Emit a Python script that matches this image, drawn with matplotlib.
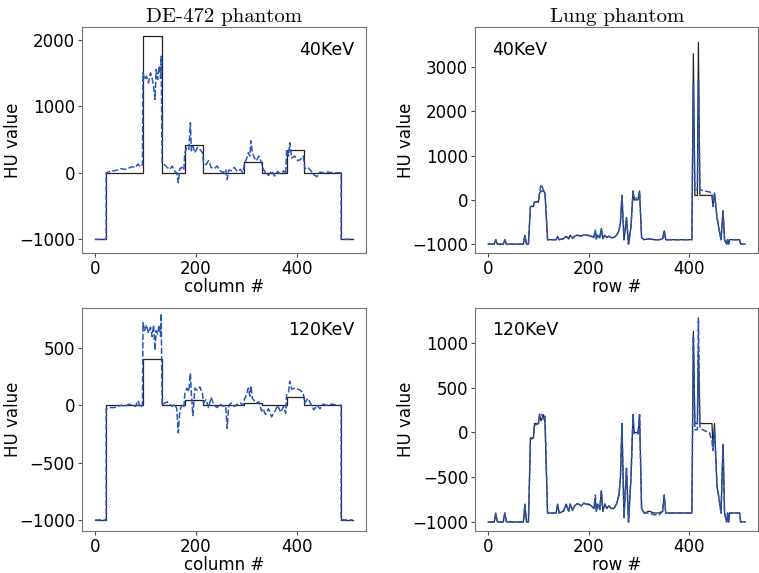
import matplotlib
matplotlib.use('Agg')
import matplotlib.pyplot as plt

# DE-472 phantom, ground truth step profile (column #)
de_true_x = [0, 22, 22, 95, 95, 132, 132, 178, 178, 215, 215,
             295, 295, 332, 332, 380, 380, 415, 415, 488, 488, 511]
de40_true_y = [-1000, -1000, 0, 0, 2050, 2050, 0, 0, 410, 410, 0,
               0, 160, 160, 0, 0, 340, 340, 0, 0, -1000, -1000]
de120_true_y = [-1000, -1000, 0, 0, 400, 400, 0, 0, 45, 45, 0,
                0, 20, 20, 0, 0, 70, 70, 0, 0, -1000, -1000]

# DE-472 phantom, reconstructed profile
de_rec_x = [0, 22, 22, 30, 38, 45, 52, 60, 67, 74,
            80, 85, 90, 94, 95, 98, 102, 106, 110, 113,
            116, 119, 121, 124, 127, 130, 131, 133, 138, 143,
            148, 153, 158, 162, 165, 168, 172, 176, 178, 182,
            186, 189, 191, 194, 198, 203, 208, 213, 215, 220,
            225, 230, 236, 242, 248, 254, 259, 262, 265, 270,
            276, 282, 288, 293, 296, 300, 304, 307, 309, 312,
            316, 320, 325, 330, 333, 338, 344, 350, 356, 362,
            368, 374, 378, 380, 384, 386, 390, 396, 402, 408,
            413, 416, 422, 428, 434, 440, 446, 452, 460, 470,
            480, 488, 488, 511]
de40_rec_y = [-1000, -1000, 0, 20, 30, 40, 60, 50, 70, 90,
              80, 130, 90, 120, 1500, 1400, 1450, 1350, 1500, 1420,
              1300, 1100, 1550, 1400, 1600, 1420, 1750, 150, 120, 80,
              50, 100, 20, 0, -150, 60, 80, 40, 300, 380,
              350, 750, 330, 400, 300, 380, 350, 300, 150, 120,
              180, 80, 60, 100, 30, 0, 50, -100, 40, 30,
              80, 20, 50, 0, 120, 200, 300, 250, 480, 300,
              220, 180, 250, 150, 60, 0, -40, 30, -50, 20,
              -20, 30, -30, 350, 250, 450, 220, 250, 180, 200,
              250, 60, 80, 30, -30, -60, 10, 0, 10, 0,
              0, 0, -1000, -1000]
de120_rec_y = [-1000, -1000, -30, -20, -20, -10, 0, -10, 10, 0,
               -10, 40, -20, 0, 720, 650, 700, 630, 680, 600,
               700, 480, 650, 620, 700, 600, 800, 0, 20, 30,
               10, -10, 10, -30, -240, -50, 0, -20, 100, 150,
               120, 280, 100, -90, 150, 130, 160, 100, 20, 50,
               -20, 70, 0, -20, 10, -10, 0, -200, 0, 20,
               -10, 10, 20, 0, 50, 90, 150, 80, 170, 60,
               40, 20, 30, -50, -30, -80, -30, -100, -60, 0,
               -60, -10, -70, 100, 120, 210, 140, 150, 140, 130,
               100, 20, 60, 10, -40, 0, -30, 10, 0, 10,
               0, 0, -1000, -1000]

# Lung phantom profiles (row #)
lung_x = [0, 12, 15, 18, 30, 33, 36, 70, 73, 76,
          80, 84, 90, 92, 100, 102, 105, 110, 113, 118,
          135, 138, 141, 150, 155, 160, 163, 168, 172, 176,
          180, 185, 190, 195, 200, 205, 210, 213, 215, 218,
          222, 225, 228, 232, 236, 240, 245, 250, 255, 260,
          263, 266, 270, 275, 279, 284, 288, 290, 298, 301,
          305, 310, 320, 330, 340, 347, 350, 353, 370, 390,
          400, 405, 408, 411, 416, 418, 421, 430, 440, 445,
          447, 450, 455, 458, 463, 467, 470, 474, 476, 478,
          480, 483, 490, 500, 502, 511]
lung40_true_y = [-1000, -1000, -900, -1000, -1000, -900, -1000, -1000, -800, -1000,
                 -1000, -150, -150, -50, -50, 150, 200, 200, 150, -900,
                 -900, -830, -900, -880, -820, -880, -800, -870, -820, -800,
                 -800, -820, -790, -800, -800, -820, -850, -700, -880, -800,
                 -860, -650, -880, -800, -850, -820, -850, -850, -800, -700,
                 -500, 100, -900, -400, -1000, -600, 200, 0, 0, 200,
                 -850, -900, -880, -900, -900, -880, -700, -900, -900, -900,
                 -900, -900, 3300, 100, 100, 3560, 100, 100, 100, 100,
                 -150, 150, -400, -600, -900, -250, -900, -1000, -900, -1000,
                 -900, -900, -900, -900, -1000, -1000]
lung40_rec_y = [-1000, -1000, -900, -1000, -1000, -900, -1000, -1000, -800, -1000,
                -1000, -150, -100, -50, -30, 150, 350, 220, 150, -900,
                -900, -840, -900, -870, -830, -880, -810, -860, -820, -800,
                -810, -820, -790, -800, -810, -820, -850, -680, -880, -800,
                -850, -650, -870, -800, -850, -820, -860, -850, -800, -700,
                -500, 100, -900, -400, -1000, -600, 200, 50, 30, 200,
                -850, -900, -880, -900, -900, -880, -700, -900, -900, -900,
                -900, -900, 2600, 230, 230, 2700, 230, 200, 180, 150,
                -150, 150, -400, -600, -900, -250, -900, -1000, -900, -1000,
                -900, -900, -900, -900, -1000, -1000]
lung120_true_y = [-1000, -1000, -900, -1000, -1000, -900, -1000, -1000, -800, -1000,
                  -1000, -60, -60, 100, 100, 200, 130, 200, 100, -900,
                  -900, -800, -900, -880, -800, -880, -800, -870, -820, -800,
                  -800, -820, -790, -800, -800, -820, -850, -750, -880, -800,
                  -860, -650, -880, -800, -850, -820, -850, -850, -800, -700,
                  -500, 100, -950, -400, -1000, -500, 200, 0, 0, 200,
                  -850, -900, -880, -900, -900, -880, -700, -900, -900, -900,
                  -900, -900, 1130, 100, 100, 930, 100, 100, 100, 100,
                  -150, 100, -600, -700, -900, -130, -900, -1000, -900, -1000,
                  -900, -900, -900, -900, -1000, -1000]
lung120_rec_y = [-1000, -1000, -900, -1000, -1000, -900, -1000, -1000, -800, -1000,
                 -1000, -80, -60, 80, 100, 200, 220, 150, 180, -900,
                 -900, -810, -900, -870, -810, -880, -800, -860, -820, -800,
                 -800, -820, -790, -800, -810, -820, -850, -700, -880, -800,
                 -860, -650, -880, -800, -850, -820, -850, -850, -800, -700,
                 -500, 100, -950, -400, -1000, -500, 200, -10, -20, 200,
                 -850, -900, -900, -920, -920, -880, -700, -900, -900, -900,
                 -900, -900, 1080, 30, 30, 1280, 50, 20, 0, -100,
                 -200, 30, -600, -700, -900, -130, -900, -1000, -900, -1000,
                 -900, -900, -900, -900, -1000, -1000]

true_color = '#222222'
rec_color = '#2a55b5'

fig = plt.figure(figsize=(7.59, 5.73), dpi=100)
axA = fig.add_axes([0.108, 0.5585, 0.374, 0.394])
axB = fig.add_axes([0.626, 0.5585, 0.373, 0.394])
axC = fig.add_axes([0.108, 0.073, 0.374, 0.39])
axD = fig.add_axes([0.626, 0.073, 0.373, 0.39])

panels = [
    (axA, de_true_x, de40_true_y, de_rec_x, de40_rec_y, '40KeV', 'column #', 'right',
     [-1000, 0, 1000, 2000], (-1205, 2185)),
    (axB, lung_x, lung40_true_y, lung_x, lung40_rec_y, '40KeV', 'row #', 'left',
     [-1000, 0, 1000, 2000, 3000], (-1200, 3900)),
    (axC, de_true_x, de120_true_y, de_rec_x, de120_rec_y, '120KeV', 'column #', 'right',
     [-1000, -500, 0, 500], (-1098, 851)),
    (axD, lung_x, lung120_true_y, lung_x, lung120_rec_y, '120KeV', 'row #', 'left',
     [-1000, -500, 0, 500, 1000], (-1103, 1395)),
]

for ax, tx, ty, rx, ry, label, xlabel, side, yt, ylim in panels:
    ax.plot(tx, ty, color=true_color, lw=0.9)
    ax.plot(rx, ry, color=rec_color, lw=1.1, ls='--', dashes=(4, 1.5))
    ax.set_xlim(-26, 537)
    ax.set_ylim(*ylim)
    ax.set_xticks([0, 200, 400])
    ax.set_yticks(yt)
    ax.tick_params(labelsize=12, color='0.3', length=3, pad=2)
    ax.set_xlabel(xlabel, fontsize=12, labelpad=0)
    ax.set_ylabel('HU value', fontsize=12)
    ax.yaxis.set_label_coords(-0.212, 0.5)
    for s in ax.spines.values():
        s.set_color('0.45')
    if side == 'right':
        ax.text(0.96, 0.9, label, transform=ax.transAxes, ha='right', va='center', fontsize=12.5)
    else:
        ax.text(0.06, 0.9, label, transform=ax.transAxes, ha='left', va='center', fontsize=12.5)

axA.set_title('DE-472 phantom', fontsize=15, family='cmr10', pad=4)
axB.set_title('Lung phantom', fontsize=15, family='cmr10', pad=4)

fig.savefig('out.png', dpi=100)
